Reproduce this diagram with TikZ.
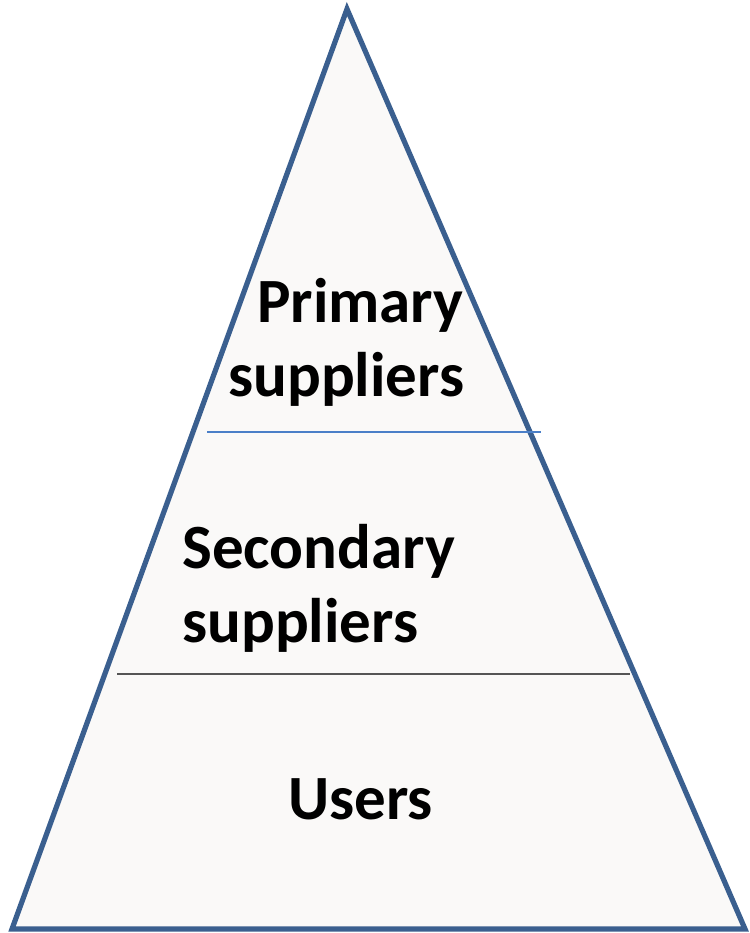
\documentclass[tikz,border=0pt]{standalone}
\usepackage{fontspec}
\setmainfont{Carlito}
\definecolor{edge}{HTML}{3A5F8F}
\definecolor{fillc}{HTML}{FAF9F8}
\definecolor{lineA}{HTML}{4A7FC8}
\definecolor{lineB}{HTML}{555555}
\tikzset{lbl/.style={font=\bfseries\fontsize{63}{75}\selectfont, inner sep=0pt, anchor=base west}}
\begin{document}
\begin{tikzpicture}[x=1pt,y=-1pt]
\useasboundingbox (0,0) rectangle (749,933);
\coordinate (top) at (347,9);
\coordinate (bl) at (12,929);
\coordinate (br) at (745,929);
\filldraw[fill=fillc, draw=edge, line width=5.2pt, line join=miter] (top) -- (bl) -- (br) -- cycle;
\coordinate (a1) at (207,432);
\coordinate (a2) at (541,432);
\coordinate (b1) at (117,674);
\coordinate (b2) at (630,674);
\draw[lineA, line width=1.8pt] (a1) -- (a2);
\draw[lineB, line width=1.8pt] (b1) -- (b2);
\node[lbl] (p1) at (257,322) {Primary};
\node[lbl] (p2) at (228,396) {suppliers};
\node[lbl] (s1) at (182,568) {Secondary};
\node[lbl] (s2) at (182,642) {suppliers};
\node[lbl] (u) at (288,819) {Users};
\end{tikzpicture}
\end{document}
